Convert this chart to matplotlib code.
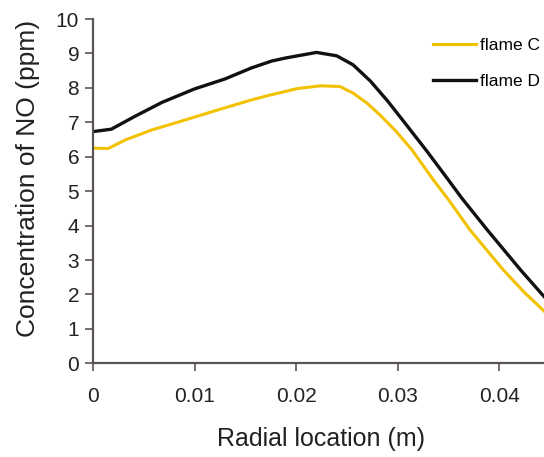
import matplotlib.pyplot as plt

plt.rcParams['font.family'] = ['Liberation Sans', 'DejaVu Sans']

# radial location (m) and NO concentration (ppm)
x_c = [0.0, 0.0015, 0.0032, 0.0058, 0.0091, 0.0123, 0.0156, 0.0174, 0.0187, 0.0201,
       0.0224, 0.0243, 0.0256, 0.0270, 0.0283, 0.0298, 0.0314, 0.0335, 0.0350,
       0.0371, 0.0404, 0.0425, 0.0444]
flame_c = [6.25, 6.24, 6.49, 6.78, 7.07, 7.36, 7.65, 7.79, 7.88, 7.98,
           8.06, 8.04, 7.85, 7.55, 7.2, 6.75, 6.2, 5.33, 4.75,
           3.88, 2.71, 2.05, 1.52]

x_d = [0.0, 0.0018, 0.0041, 0.0068, 0.0100, 0.0130, 0.0156, 0.0176, 0.0190, 0.0207,
       0.0220, 0.0240, 0.0256, 0.0273, 0.0290, 0.0306, 0.0329, 0.0348, 0.0363,
       0.0388, 0.0421, 0.0444]
flame_d = [6.73, 6.80, 7.17, 7.58, 7.97, 8.26, 8.58, 8.78, 8.87, 8.96,
           9.03, 8.93, 8.67, 8.2, 7.62, 7.02, 6.15, 5.4, 4.8,
           3.88, 2.71, 1.94]

xticks = [0, 0.01, 0.02, 0.03, 0.04]
xtick_labels = ['0', '0.01', '0.02', '0.03', '0.04']

fig = plt.figure(figsize=(5.44, 4.57), dpi=100)
ax = fig.add_axes([0.171, 0.205, 0.829, 0.7534])

ax.plot(x_c, flame_c, color='#f2c200', lw=2.2, label='flame C')
ax.plot(x_d, flame_d, color='#111111', lw=2.4, label='flame D')

ax.set_xlim(0, 0.0444)
ax.set_ylim(0, 10)
ax.set_xticks(xticks)
ax.set_xticklabels(xtick_labels)
ax.set_yticks(range(0, 11))

for s in ['top', 'right']:
    ax.spines[s].set_visible(False)
for s in ['left', 'bottom']:
    ax.spines[s].set_color('#5a5452')
    ax.spines[s].set_linewidth(1.6)

ax.tick_params(axis='both', colors='#5a5452', labelcolor='#222222', labelsize=15,
               length=6, width=1.2, direction='out')
ax.tick_params(axis='x', pad=11)
ax.tick_params(axis='y', pad=4)

ax.set_xlabel('Radial location (m)', fontsize=18, color='#222222')
ax.xaxis.set_label_coords(0.505, -0.185)
ax.set_ylabel('Concentration of NO (ppm)', fontsize=19, color='#222222')
ax.yaxis.set_label_coords(-0.118, 0.537)

# legend sits at the right edge like in the source figure
fig.legend(loc='upper left', bbox_to_anchor=(0.796, 0.917), frameon=False,
           fontsize=12.5, handlelength=2.5, handletextpad=0.22, labelspacing=1.2,
           borderaxespad=0, borderpad=0)

fig.savefig('out.png', dpi=100)
